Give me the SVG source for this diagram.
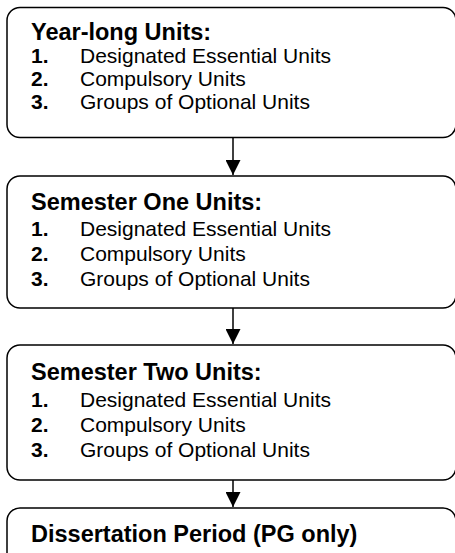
<svg xmlns="http://www.w3.org/2000/svg" width="455" height="553" viewBox="0 0 455 553">
<defs>
<marker id="ah" viewBox="0 0 10 10" refX="10" refY="5" markerWidth="15" markerHeight="15" markerUnits="userSpaceOnUse" orient="auto">
<path d="M0,0 L10,5 L0,10 z" fill="#000"/>
</marker>
</defs>
<style>
.box{fill:#fff;stroke:#000;stroke-width:1.5}
.t{font-family:"Liberation Sans",Arial,sans-serif;font-weight:bold;font-size:23.5px;fill:#000}
.n{font-family:"Liberation Sans",Arial,sans-serif;font-weight:bold;font-size:21px;fill:#000}
.i{font-family:"Liberation Sans",Arial,sans-serif;font-size:21px;fill:#000}
.c{stroke:#000;stroke-width:1.5;fill:none}
</style>
<g id="connectors">
<line class="c" x1="233" y1="138" x2="233" y2="175" marker-end="url(#ah)"/>
<line class="c" x1="233" y1="308" x2="233" y2="344" marker-end="url(#ah)"/>
<line class="c" x1="233" y1="480" x2="233" y2="507" marker-end="url(#ah)"/>
</g>
<g id="year-long">
<rect class="box" x="7" y="7.5" width="449" height="130" rx="13"/>
<text class="t" x="31" y="40">Year-long Units:</text>
<text class="n" x="31" y="63">1.</text><text class="i" x="80" y="63">Designated Essential Units</text>
<text class="n" x="31" y="86">2.</text><text class="i" x="80" y="86">Compulsory Units</text>
<text class="n" x="31" y="109">3.</text><text class="i" x="80" y="109">Groups of Optional Units</text>
</g>
<g id="semester-one">
<rect class="box" x="7" y="176" width="449" height="132" rx="13"/>
<text class="t" x="31" y="210">Semester One Units:</text>
<text class="n" x="31" y="236">1.</text><text class="i" x="80" y="236">Designated Essential Units</text>
<text class="n" x="31" y="261">2.</text><text class="i" x="80" y="261">Compulsory Units</text>
<text class="n" x="31" y="286">3.</text><text class="i" x="80" y="286">Groups of Optional Units</text>
</g>
<g id="semester-two">
<rect class="box" x="7" y="345" width="449" height="135" rx="13"/>
<text class="t" x="31" y="380">Semester Two Units:</text>
<text class="n" x="31" y="407">1.</text><text class="i" x="80" y="407">Designated Essential Units</text>
<text class="n" x="31" y="432">2.</text><text class="i" x="80" y="432">Compulsory Units</text>
<text class="n" x="31" y="457">3.</text><text class="i" x="80" y="457">Groups of Optional Units</text>
</g>
<g id="dissertation">
<rect class="box" x="7" y="508" width="449" height="70" rx="13"/>
<text class="t" x="31" y="542">Dissertation Period (PG only)</text>
</g>
</svg>
